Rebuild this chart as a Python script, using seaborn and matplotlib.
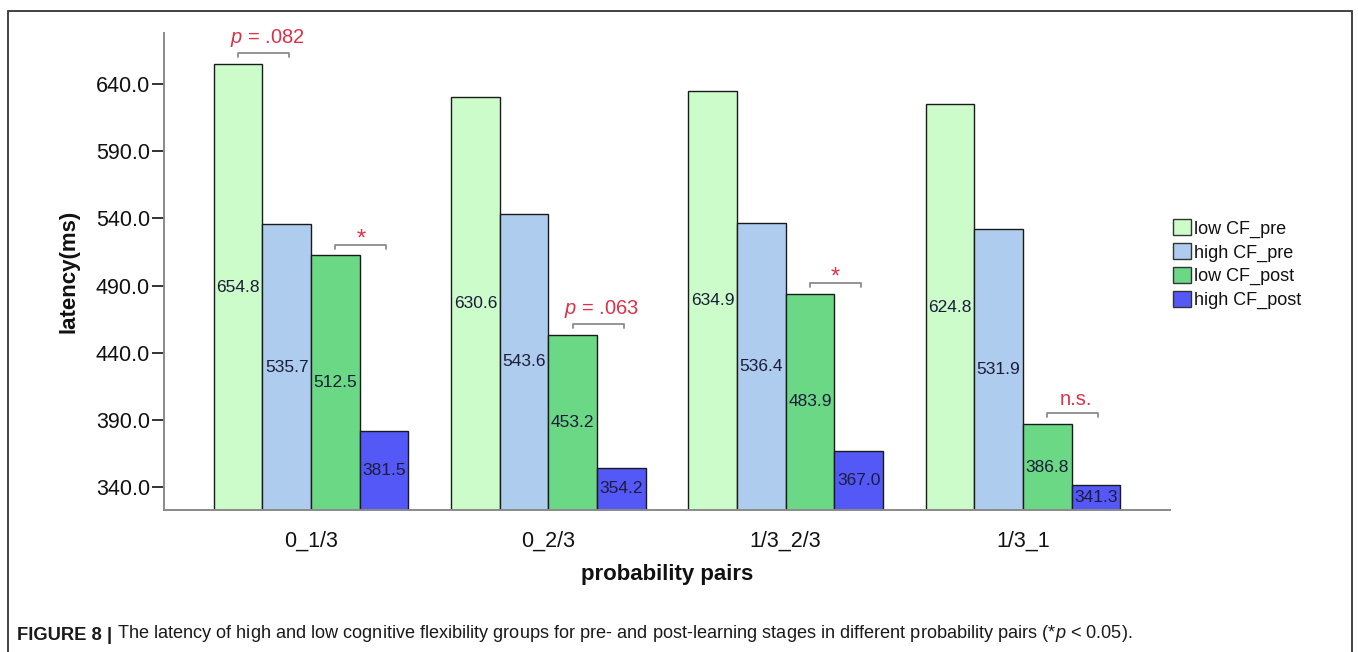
import matplotlib
matplotlib.use("Agg")
import matplotlib.pyplot as plt
import seaborn as sns
import pandas as pd
from matplotlib.patches import Rectangle

# ---- data ----
pairs = ["0_1/3", "0_2/3", "1/3_2/3", "1/3_1"]
groups = ["low CF_pre", "high CF_pre", "low CF_post", "high CF_post"]
low_cf_pre = [654.8, 630.6, 634.9, 624.8]
high_cf_pre = [535.7, 543.6, 536.4, 531.9]
low_cf_post = [512.5, 453.2, 483.9, 386.8]
high_cf_post = [381.5, 354.2, 367.0, 341.3]
y_ticks = [340.0, 390.0, 440.0, 490.0, 540.0, 590.0, 640.0]
# significance marks: (pair index, first group index, second group index, label)
sig_marks = [
    (0, 0, 1, r"$\it{p}$ = .082"),
    (0, 2, 3, "*"),
    (1, 2, 3, r"$\it{p}$ = .063"),
    (2, 2, 3, "*"),
    (3, 2, 3, "n.s."),
]
colors = ["#cbfcc9", "#aecdee", "#6bd886", "#5458f6"]

values = [low_cf_pre, high_cf_pre, low_cf_post, high_cf_post]
rows = []
for g, vals in zip(groups, values):
    for p, v in zip(pairs, vals):
        rows.append({"pair": p, "group": g, "latency": v})
df = pd.DataFrame(rows)

sns.set_style("white")
plt.rcParams["font.family"] = ["Liberation Sans", "DejaVu Sans"]
plt.rcParams["mathtext.fontset"] = "custom"
plt.rcParams["mathtext.it"] = "Liberation Sans:italic"
plt.rcParams["mathtext.rm"] = "Liberation Sans"
plt.rcParams["text.color"] = "#111111"
plt.rcParams["axes.labelcolor"] = "#111111"
plt.rcParams["xtick.color"] = "#111111"
plt.rcParams["ytick.color"] = "#111111"

fig = plt.figure(figsize=(13.58, 6.52), dpi=100)
ax = fig.add_axes([164 / 1358, 1 - 510 / 652, (1170 - 164) / 1358, (510 - 33) / 652])

sns.barplot(
    data=df, x="pair", y="latency", hue="group", order=pairs, hue_order=groups,
    palette=colors, width=0.82, saturation=1, errorbar=None,
    edgecolor="#1a1a1a", linewidth=1.0, ax=ax, legend=True,
)

ymin, ymax = 322.9, 678.0
ax.set_ylim(ymin, ymax)
ax.set_xlim(-0.62, 3.62)
ax.set_yticks(y_ticks)
ax.set_yticklabels([f"{t:.1f}" for t in y_ticks], fontsize=15.5)
ax.tick_params(axis="y", which="both", left=True, length=9, width=1.2, color="#111111", pad=1)
ax.tick_params(axis="x", length=0, pad=15, labelsize=15.5)
for s in ["top", "right"]:
    ax.spines[s].set_visible(False)
for s in ["left", "bottom"]:
    ax.spines[s].set_color("#8a8a8a")
    ax.spines[s].set_linewidth(1.4)

ax.set_xlabel("probability pairs", fontsize=16, fontweight="bold", labelpad=9)
ax.set_ylabel("latency(ms)", fontsize=16, fontweight="bold", labelpad=12)

# value labels centred in the visible part of each bar
for cont in ax.containers:
    for bar in cont:
        h = bar.get_height()
        ax.text(bar.get_x() + bar.get_width() / 2, (ymin + h) / 2, f"{h:.1f}",
                ha="center", va="center", fontsize=12.5, color="#1c1c3a")

# significance brackets
red = "#dd3148"
for pi, g1, g2, lab in sig_marks:
    b1 = ax.containers[g1][pi]
    b2 = ax.containers[g2][pi]
    x1 = b1.get_x() + b1.get_width() / 2
    x2 = b2.get_x() + b2.get_width() / 2 + 0.01
    y = max(b1.get_height(), b2.get_height()) + 8
    d = 3
    ax.plot([x1, x1, x2, x2], [y - d, y, y, y - d], color="#8c8c8c", lw=1.3, clip_on=False)
    if lab == "*":
        ax.annotate(lab, xy=((x1 + x2) / 2, y), xytext=(0, -4), textcoords="offset points",
                    ha="center", va="bottom", fontsize=17, color=red, annotation_clip=False)
    else:
        ax.annotate(lab, xy=((x1 + x2) / 2 + 0.015, y), xytext=(0, 3), textcoords="offset points",
                    ha="center", va="bottom", fontsize=14.5, color=red, annotation_clip=False)

# legend
handles, labels = ax.get_legend_handles_labels()
ax.get_legend().remove()
for h in handles:
    h.set_edgecolor("#333333")
fig.legend(handles, labels, loc="upper left", bbox_to_anchor=(1166 / 1358, 1 - 212 / 652),
           frameon=False, fontsize=13, handlelength=1.0, handleheight=1.0,
           handletextpad=0.15, labelspacing=0.3, borderaxespad=0)

# outer frame
fig.patches.append(Rectangle((8 / 1358, -0.02), (1352 - 8) / 1358, 1.02 - 11 / 652,
                             transform=fig.transFigure, fill=False, edgecolor="#333333",
                             linewidth=1.3))

# caption
t1 = fig.text(17 / 1358, 1 - 636 / 652, "FIGURE 8 |", fontsize=13.2, fontweight="bold",
              va="center", ha="left", color="#1a1a1a")
cap = (" The latency of high and low cognitive flexibility groups for pre- and post-learning "
       r"stages in different probability pairs (*$\it{p}$ < 0.05).")
ax.annotate(cap, xy=(1, 0), xycoords=t1, xytext=(0, 0), textcoords="offset points",
            ha="left", va="bottom", fontsize=13.1, color="#1a1a1a", annotation_clip=False)

fig.savefig("out.png", dpi=100)
